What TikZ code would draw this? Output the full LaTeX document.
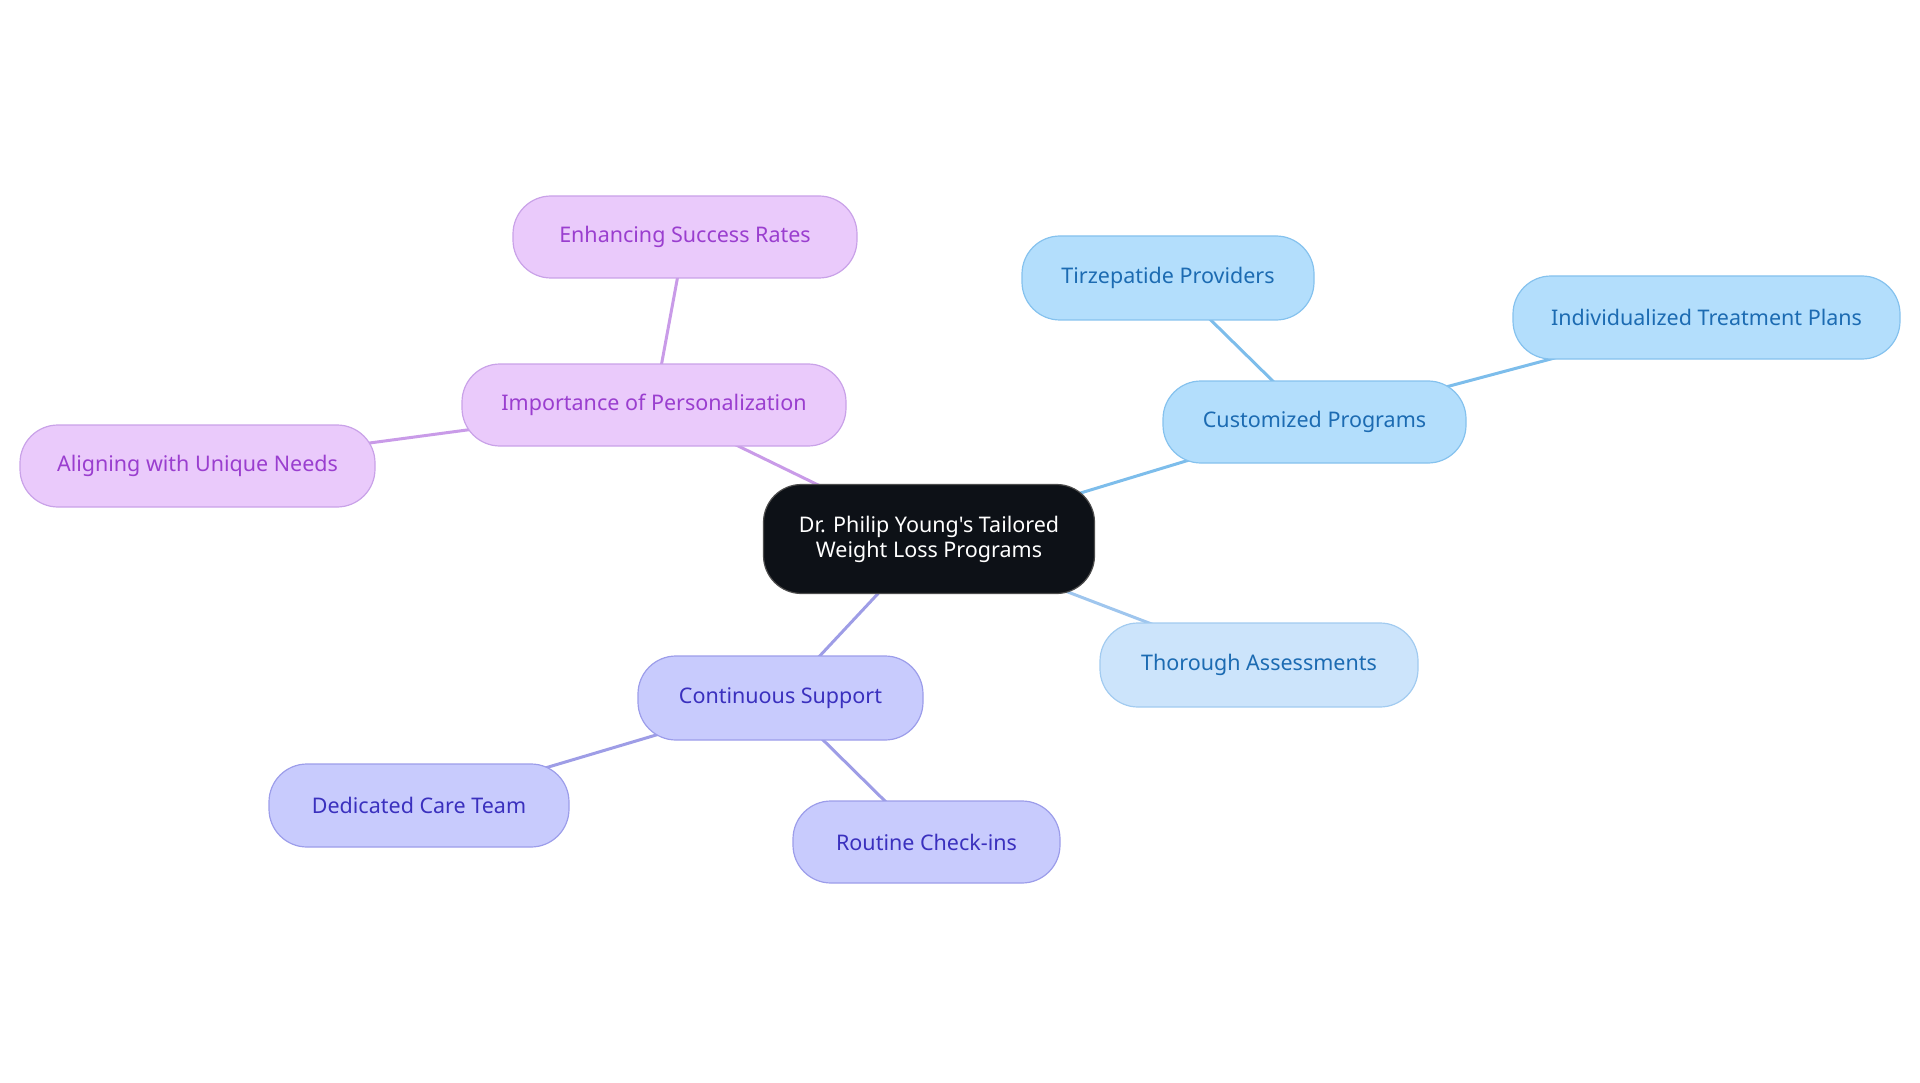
\documentclass[tikz,border=0pt]{standalone}
\usepackage{fontspec}
\setmainfont{Noto Sans}[Ligatures=TeXOff]
\usetikzlibrary{backgrounds}
\definecolor{pfill}{HTML}{EACAFB}
\definecolor{pdraw}{HTML}{C9A2E8}
\definecolor{ptext}{HTML}{9A3ECF}
\definecolor{pedge}{HTML}{C99BE8}
\definecolor{ifill}{HTML}{C8CBFD}
\definecolor{idraw}{HTML}{9C9DEA}
\definecolor{itext}{HTML}{3A30BE}
\definecolor{iedge}{HTML}{9E9DE6}
\definecolor{bfill}{HTML}{B3DEFC}
\definecolor{bdraw}{HTML}{85C2EE}
\definecolor{btext}{HTML}{1C6BB2}
\definecolor{bedge}{HTML}{7DBDEB}
\definecolor{tfill}{HTML}{CCE4FB}
\definecolor{tdraw}{HTML}{A2CBF0}
\definecolor{tedge}{HTML}{9FC6EE}
\definecolor{cfill}{HTML}{0D1117}
\tikzset{
  box/.style={rectangle, rounded corners=38pt, line width=1.2pt, inner sep=0pt,
    font=\fontsize{21.5}{25}\selectfont, align=center},
  pbox/.style={box, fill=pfill, draw=pdraw, text=ptext},
  ibox/.style={box, fill=ifill, draw=idraw, text=itext},
  bbox/.style={box, fill=bfill, draw=bdraw, text=btext},
  tbox/.style={box, fill=tfill, draw=tdraw, text=btext},
  cbox/.style={box, fill=cfill, draw=black!70, text=white},
  edge/.style={line width=3pt},
}
\begin{document}
\begin{tikzpicture}[x=1pt,y=-1pt]
\useasboundingbox (0,0) rectangle (1920,1083);
\node[cbox, minimum width=331pt, minimum height=109pt] (c) at (929,539) {Dr. Philip Young's Tailored\\Weight Loss Programs};
\node[pbox, minimum width=344pt, minimum height=82pt] (esr) at (685,237) {Enhancing Success Rates};
\node[pbox, minimum width=384pt, minimum height=82pt] (iop) at (654,405) {Importance of Personalization};
\node[pbox, minimum width=355pt, minimum height=82pt] (aun) at (197.5,466) {Aligning with Unique Needs};
\node[bbox, minimum width=292pt, minimum height=84pt] (tp) at (1168,278) {Tirzepatide Providers};
\node[bbox, minimum width=387pt, minimum height=83pt] (itp) at (1706.5,317.5) {Individualized Treatment Plans};
\node[bbox, minimum width=303pt, minimum height=82pt] (cp) at (1314.5,422) {Customized Programs};
\node[tbox, minimum width=318pt, minimum height=84pt] (ta) at (1259,665) {Thorough Assessments};
\node[ibox, minimum width=285pt, minimum height=84pt] (cs) at (780.5,698) {Continuous Support};
\node[ibox, minimum width=300pt, minimum height=83pt] (dct) at (419,805.5) {Dedicated Care Team};
\node[ibox, minimum width=267pt, minimum height=82pt] (rc) at (926.5,842) {Routine Check-ins};
\begin{scope}[on background layer]
\draw[edge, pedge] (c.center) -- (iop.center);
\draw[edge, pedge] (iop.center) -- (esr.center);
\draw[edge, pedge] (iop.center) -- (aun.center);
\draw[edge, bedge] (c.center) -- (cp.center);
\draw[edge, bedge] (cp.center) -- (tp.center);
\draw[edge, bedge] (cp.center) -- (itp.center);
\draw[edge, tedge] (c.center) -- (ta.center);
\draw[edge, iedge] (c.center) -- (cs.center);
\draw[edge, iedge] (cs.center) -- (dct.center);
\draw[edge, iedge] (cs.center) -- (rc.center);
\end{scope}
\end{tikzpicture}
\end{document}
